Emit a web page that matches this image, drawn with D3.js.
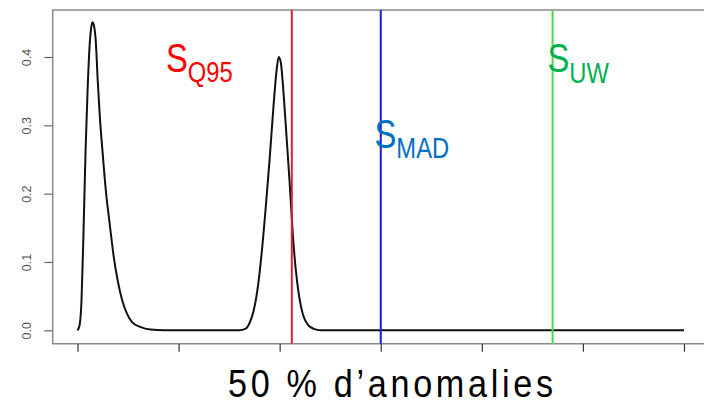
<!DOCTYPE html>
<html>
<head>
<meta charset="utf-8">
<script src="https://cdn.jsdelivr.net/npm/d3@7"></script>
<style>
  html, body { margin: 0; padding: 0; background: #fff; }
  svg { display: block; }
</style>
</head>
<body>
<svg id="chart" width="704" height="404"></svg>
<script>
// ---- data ----
const densityX = [0.00,0.02,0.04,0.06,0.08,0.10,0.12,0.14,0.15,0.16,0.18,0.20,0.22,0.25,0.28,0.32,0.36,0.40,0.44,0.49,0.54,0.62,0.72,0.86,1.20,
                  1.60,1.66,1.70,1.74,1.78,1.82,1.86,1.90,1.94,1.97,1.99,2.01,2.04,2.07,2.10,2.13,2.16,2.19,2.23,2.28,2.34,2.40,3.00,4.00,5.00,6.00];
const densityY = [0.000,0.007,0.045,0.147,0.264,0.352,0.417,0.447,0.451,0.448,0.425,0.366,0.315,0.257,0.205,0.154,0.106,0.071,0.045,0.024,0.012,0.005,0.001,0.000,0.000,
                  0.000,0.002,0.010,0.027,0.059,0.110,0.176,0.249,0.330,0.381,0.400,0.393,0.344,0.279,0.213,0.140,0.088,0.052,0.023,0.008,0.002,0.000,0.000,0.000,0.000,0.000];
const xTicks = [0, 1, 2, 3, 4, 5, 6];
const yTicks = [0.0, 0.1, 0.2, 0.3, 0.4];
const yTickLabels = ["0.0", "0.1", "0.2", "0.3", "0.4"];
const thresholdNames = ["Q95", "MAD", "UW"];
const thresholdX = [2.12, 3.00, 4.70];
const title = "50 % d\u2019anomalies";

// ---- layout ----
const svg = d3.select("#chart");
const frameLeft = 52.7, frameTop = 10, frameBottom = 343.7, frameRight = 704;
const x = d3.scaleLinear().domain([0, 6]).range([77.5, 684]);
const y = d3.scaleLinear().domain([0, 0.4]).range([330.3, 57]);

const lineColors = ["#c62a2a", "#1c1cc4", "#44dd44"];
const labelColors = ["#ff0000", "#0070c0", "#00b050"];
const frameColor = "#8a8a8a";
const narrow = 0.82;
const titleNarrow = 0.9;

// frame (left, top, bottom)
svg.append("path")
  .attr("d", `M${frameRight},${frameTop} H${frameLeft} V${frameBottom} H${frameRight}`)
  .attr("fill", "none").attr("stroke", frameColor).attr("stroke-width", 1.5);

// y axis
const yAxis = svg.append("g")
  .attr("transform", `translate(${frameLeft},0)`)
  .call(d3.axisLeft(y).tickValues(yTicks).tickFormat((d, i) => yTickLabels[i]).tickSize(8.4).tickSizeOuter(0));
yAxis.select(".domain").remove();
yAxis.selectAll(".tick line").attr("stroke", "#666").attr("stroke-width", 1.2);
yAxis.selectAll(".tick text")
  .attr("x", null).attr("y", null).attr("dy", "0.36em")
  .attr("transform", "translate(-26,0) rotate(-90)")
  .attr("text-anchor", "middle")
  .attr("fill", "#555")
  .style("font-family", "'Liberation Sans', Arial, sans-serif")
  .style("font-size", "12.5px");

// x axis (ticks only, no labels)
const xAxis = svg.append("g")
  .attr("transform", `translate(0,${frameBottom})`)
  .call(d3.axisBottom(x).tickValues(xTicks).tickFormat("").tickSize(8).tickSizeOuter(0));
xAxis.select(".domain").remove();
xAxis.selectAll(".tick line").attr("stroke", "#333").attr("stroke-width", 1.2);

// density curve
const line = d3.line()
  .x((d, i) => x(densityX[i]))
  .y(d => y(d))
  .curve(d3.curveMonotoneX);
svg.append("path")
  .datum(densityY)
  .attr("d", line)
  .attr("fill", "none")
  .attr("stroke", "#111")
  .attr("stroke-width", 2);

// threshold lines
svg.selectAll("line.thr")
  .data(thresholdX)
  .join("line")
  .attr("class", "thr")
  .attr("x1", d => x(d)).attr("x2", d => x(d))
  .attr("y1", frameTop).attr("y2", frameBottom)
  .attr("stroke", (d, i) => lineColors[i])
  .attr("stroke-width", 2);

// threshold labels (condensed look via horizontal scaling)
const labelPos = [
  {x: 166, y: 72, dy: 10},
  {x: 374.5, y: 148, dy: 10},
  {x: 547.5, y: 72, dy: 11}
];
thresholdNames.forEach((name, i) => {
  const t = svg.append("text")
    .attr("transform", `translate(${labelPos[i].x},${labelPos[i].y}) scale(${narrow},1)`)
    .attr("fill", labelColors[i])
    .style("font-family", "'Liberation Sans', Arial, sans-serif")
    .style("font-size", "40px");
  t.append("tspan").text("S");
  t.append("tspan").attr("dy", labelPos[i].dy).style("font-size", "29px").text(name);
});

// title
svg.append("text")
  .attr("transform", `translate(228,396.5) scale(${titleNarrow},1)`)
  .attr("textLength", 325 / titleNarrow).attr("lengthAdjust", "spacing")
  .attr("fill", "#000")
  .style("font-family", "'Liberation Sans', Arial, sans-serif")
  .style("font-size", "38px")
  .text(title);
</script>
</body>
</html>
